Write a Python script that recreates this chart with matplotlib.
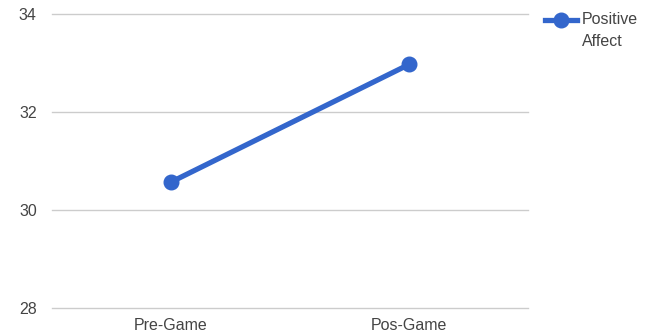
import matplotlib.pyplot as plt
import numpy as np

plt.rcParams['font.family'] = ['Liberation Sans', 'DejaVu Sans']

# data
categories = ['Pre-Game', 'Pos-Game']
positive_affect = [30.57, 32.97]
y_ticks = [28, 30, 32, 34]
series_name = 'Positive\nAffect'

blue = '#3366cc'
grid_col = '#cccccc'
text_col = '#444444'

fig = plt.figure(figsize=(6.45, 3.34), dpi=100)
ax = fig.add_axes([52 / 645, 1 - 308 / 334, 476 / 645, 294 / 334])

x = np.arange(len(categories))
ax.plot(x, positive_affect, color=blue, lw=3.8, marker='o', ms=10.5,
        solid_capstyle='round', zorder=3, clip_on=False)

ax.set_xlim(-0.5, len(categories) - 0.5)
ax.set_ylim(y_ticks[0], y_ticks[-1])
for t in y_ticks:
    ax.axhline(t, color=grid_col, lw=1, zorder=1, clip_on=False)

ax.set_yticks(y_ticks)
ax.set_yticklabels([str(t) for t in y_ticks])
ax.set_xticks(x)
ax.set_xticklabels(categories)
ax.tick_params(length=0, labelsize=11.5, colors=text_col)
ax.tick_params(axis='y', pad=11)
ax.tick_params(axis='x', pad=7)
for s in ax.spines.values():
    s.set_visible(False)

# legend drawn by hand in figure pixels
lx0, lx1, ly = 545 / 645, 577 / 645, 1 - 20 / 334
fig.add_artist(plt.Line2D([lx0, lx1], [ly, ly], color=blue, lw=3.8,
                          transform=fig.transFigure))
fig.add_artist(plt.Line2D([(lx0 + lx1) / 2], [ly], color=blue, marker='o',
                          ms=10.5, transform=fig.transFigure))
fig.text(582 / 645, 1 - 12 / 334, series_name, fontsize=11.5, color=text_col,
         va='top', ha='left', linespacing=1.6)

fig.savefig('out.png', dpi=100)
